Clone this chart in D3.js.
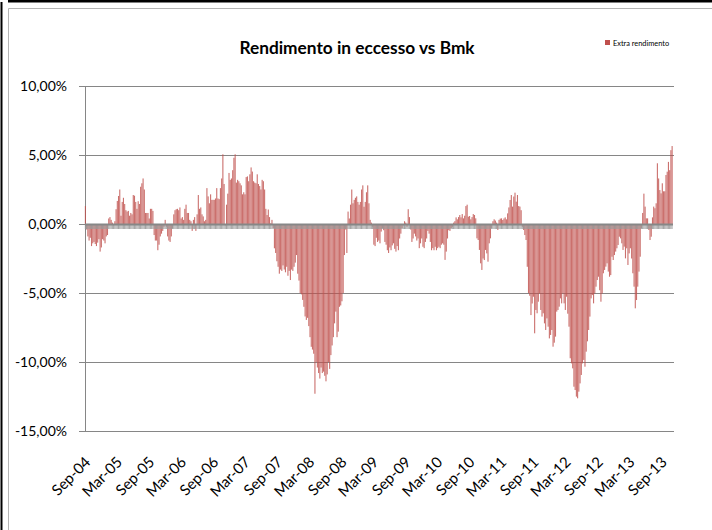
<!DOCTYPE html>
<html>
<head>
<meta charset="utf-8">
<script src="https://cdnjs.cloudflare.com/ajax/libs/d3/7.8.5/d3.min.js"></script>
<style>
  html, body { margin: 0; padding: 0; background: #ffffff; }
  svg { display: block; }
  text { font-family: Lato, "Open Sans", sans-serif; fill: #000; }
</style>
</head>
<body>
<svg id="chart" width="712" height="530"></svg>
<script>
// ---- Data (weekly excess return vs benchmark, %), first week 3 Sep 2004 ----
const seriesName = "Extra rendimento";
const chartTitle = "Rendimento in eccesso vs Bmk";
const firstWeek = "2004-09-03";
const d2004 = [1.3,-0.4,-0.9,-1.2,-1.0,-1.6,-1.4,-1.3,-1.45,-1.6,-1.35,-1.1,-2.0,-1.7,-1.1,-1.2,-1.4,-0.9];
const d2005 = [-0.8,0.4,0.5,0.3,0.1,-0.1,0.2,1.07,1.67,2.03,2.5,0.6,1.6,1.9,1.45,1.0,0.9,0.95,0.6,0.8,0.7,2.1,2.05,1.6,1.1,1.65,1.45,2.7,2.95,3.3,2.5,0.8,0.8,0.8,0.4,1.1,1.1,0.95,-0.8,-1.2,-1.2,-1.9,-1.5,-0.9,-0.7,-0.5,-0.2,0.3,-0.2,-0.9,-1.2,-1.3];
const d2006 = [-0.9,-0.3,0.7,1.0,1.07,1.1,1.0,1.2,0.4,0.5,0.3,1.1,1.4,0.8,0.8,0.3,0.2,-0.5,0.3,0.5,-0.5,0.7,2.1,1.1,1.2,0.7,0.55,0.2,0.3,2.6,2.0,1.5,2.15,1.75,1.75,1.75,1.85,2.6,1.85,1.8,2.6,3.3,5.05,2.9,-0.1,1.4,2.2,3.7,3.2,3.3,3.9,4.8];
const d2007 = [5.05,3.0,3.2,3.1,2.95,2.8,2.15,2.3,2.15,3.4,3.45,3.1,3.6,4.1,3.8,3.1,3.0,2.95,3.6,2.9,2.75,2.5,3.2,3.1,2.5,1.1,0.65,1.05,0.5,0.05,0.3,-0.3,-1.76,-2.1,-2.7,-3.1,-3.6,-3.3,-3.4,-3.0,-3.3,-3.5,-3.1,-3.75,-3.4,-4.06,-3.3,-3.4,-3.1,-2.8,-2.25,-3.6];
const d2008 = [-4.1,-5.0,-5.1,-5.5,-6.0,-6.7,-6.95,-6.8,-7.4,-8.2,-8.9,-9.1,-9.4,-12.3,-10.0,-10.4,-10.8,-11.2,-10.4,-10.8,-10.7,-11.0,-11.4,-10.9,-10.0,-10.5,-9.5,-8.8,-8.2,-7.2,-6.35,-8.2,-7.8,-6.0,-5.9,-5.6,-5.0,-2.25,-0.4,-2.1,0.9,0.4,1.4,2.5,1.5,1.75,1.9,2.0,1.6,1.4,1.6,2.5];
const d2009 = [2.8,1.25,1.6,2.3,2.8,1.5,0.3,0.1,-0.2,-1.5,-1.6,-1.0,-1.3,-1.2,-1.4,-0.55,-0.3,-0.45,-1.3,-1.5,-1.9,-2.1,-1.7,-1.9,-1.55,-1.4,-1.8,-2.0,-1.6,-1.9,-1.05,-0.7,-0.3,-0.1,0.2,0.1,-0.2,1.07,0.5,-0.4,-1.3,-1.05,-0.7,-0.9,-1.2,-1.05,-1.75,-1.4,-1.05,-1.65,-1.75,-1.3];
const d2010 = [-1.05,-0.5,-0.7,-1.3,-1.9,-1.75,-1.9,-1.65,-1.9,-1.75,-1.65,-1.75,-1.5,-1.4,-1.5,-2.6,-2.0,-1.05,-0.45,-0.5,-0.3,-0.2,0.1,0.2,0.48,0.34,0.5,0.65,0.48,0.72,0.41,0.6,1.3,1.4,0.53,0.58,0.34,0.5,0.72,0.65,0.41,-1.04,-1.16,-1.88,-2.85,-3.33,-2.5,-2.61,-1.88,-2.13,-2.73,-1.4];
const d2011 = [-1.04,-0.3,0.2,0.34,0.25,0.1,-0.43,0.3,0.39,0.41,0.29,0.4,0.48,0.34,0.77,1.2,1.74,2.1,1.26,1.99,2.27,1.62,2.1,1.3,1.26,1.0,-0.2,-0.43,-0.8,-1.16,-3.1,-5.0,-5.2,-6.6,-5.76,-5.27,-7.92,-6.23,-6.47,-5.63,-5.02,-6.23,-6.71,-6.47,-7.2,-7.68,-6.84,-7.44,-8.29,-8.04,-7.68,-8.89];
const d2012 = [-8.6,-8.16,-6.35,-6.23,-5.99,-5.39,-5.75,-5.03,-5.75,-6.23,-5.27,-6.5,-7.44,-9.73,-10.1,-10.46,-11.79,-12.03,-12.51,-12.63,-12.15,-11.55,-10.94,-10.1,-9.85,-10.34,-9.25,-8.5,-7.68,-6.71,-5.39,-5.15,-5.75,-5.03,-4.54,-4.06,-3.82,-4.8,-5.63,-5.03,-3.57,-3.33,-3.09,-2.85,-3.45,-3.82,-3.7,-2.37,-2.61,-2.25,-2.0,-1.76];
const d2013 = [-1.52,-0.92,-1.04,-1.4,-1.88,-1.64,-2.49,-1.76,-2.97,-2.13,-1.76,-2.5,-3.57,-4.54,-6.11,-5.51,-4.54,-3.45,-2.37,-0.3,0.8,2.2,1.26,0.41,0.41,-0.43,-1.16,-0.92,0.48,1.26,1.14,1.5,4.4,3.3,2.46,2.22,2.95,2.37,2.37,3.55,3.79,4.5,3.9,5.35,5.65];

const xTickLabels = ["Sep-04","Mar-05","Sep-05","Mar-06","Sep-06","Mar-07","Sep-07","Mar-08","Sep-08","Mar-09","Sep-09","Mar-10","Sep-10","Mar-11","Sep-11","Mar-12","Sep-12","Mar-13","Sep-13"];
const yTickValues = [10, 5, 0, -5, -10, -15];
const xDomainLabels = ["2004-09-01", "2013-11-12"];

// ---- Build ----
const values = [].concat(d2004, d2005, d2006, d2007, d2008, d2009, d2010, d2011, d2012, d2013);
const parseDay = d3.timeParse("%Y-%m-%d");
const start = parseDay(firstWeek);
const data = values.map((v, i) => ({ date: d3.timeDay.offset(start, 7 * i), value: v }));
const parseTick = d3.timeParse("%b-%y");
const tickDates = xTickLabels.map(parseTick);

const svg = d3.select("#chart");
const W = 712, H = 530;
const plot = { left: 85, right: 674, top: 86, bottom: 431 };

const x = d3.scaleTime().domain(xDomainLabels.map(parseDay)).range([plot.left, plot.right]);
const y = d3.scaleLinear().domain([-15, 10]).range([plot.bottom, plot.top]);

// outer frames (sheet border and chart frame)
svg.append("rect").attr("x", 8).attr("y", 0).attr("width", W - 8).attr("height", 2.5).attr("fill", "#000");
svg.append("rect").attr("x", 0.5).attr("y", 2).attr("width", 2).attr("height", H).attr("fill", "#000");
svg.append("path").attr("d", `M8.5,${H} V8.5 H${W}`).attr("fill", "none").attr("stroke", "#b4b4b4").attr("stroke-width", 1);

// gridlines + y axis
const locale = d3.formatLocale({ decimal: ",", thousands: ".", grouping: [3], currency: ["", "€"], minus: "-" });
const fmt = v => locale.format(".2f")(v) + "%";
const yAxis = d3.axisLeft(y).tickValues(yTickValues).tickSize(-(plot.right - plot.left)).tickSizeOuter(0).tickPadding(12).tickFormat(fmt);
const gy = svg.append("g").attr("transform", `translate(${plot.left},0)`).call(yAxis);
gy.select(".domain").attr("stroke", "#868686");
gy.selectAll(".tick line").attr("stroke", "#868686").attr("stroke-width", 1);
gy.selectAll(".tick").filter(d => d === 0).select("line").attr("stroke", "none");
gy.selectAll(".tick text").attr("font-size", "14px").attr("font-family", "Lato, sans-serif").attr("fill", "#000").attr("x", -18);
// small outward tick marks
gy.selectAll(".tick").append("line").attr("x1", -6).attr("x2", 0).attr("stroke", "#868686");

// bars
svg.append("g").selectAll("rect").data(data).join("rect")
  .attr("x", d => x(d.date) - 0.5)
  .attr("width", 1.1)
  .attr("y", d => y(Math.max(0, d.value)))
  .attr("height", d => Math.abs(y(d.value) - y(0)))
  .attr("fill", "#c0504d")
  .attr("fill-opacity", 0.82);

// category axis at zero: thick line with dense tick marks
const zeroY = y(0);
svg.append("g").selectAll("line").data(data).join("line")
  .attr("x1", d => x(d.date)).attr("x2", d => x(d.date))
  .attr("y1", zeroY).attr("y2", zeroY + 5)
  .attr("stroke", "#9a9a9a").attr("stroke-width", 0.9);
svg.append("line").attr("x1", plot.left).attr("x2", plot.right - 1)
  .attr("y1", zeroY + 0.5).attr("y2", zeroY + 0.5)
  .attr("stroke", "#878787").attr("stroke-width", 2.2);

// x tick labels (rotated)
const xAxis = d3.axisBottom(x).tickValues(tickDates).tickSize(0).tickFormat((d, i) => xTickLabels[i]);
const gx = svg.append("g").attr("transform", `translate(0,${plot.bottom})`).call(xAxis);
gx.select(".domain").remove();
gx.selectAll(".tick text")
  .attr("font-size", "15px").attr("font-family", "Lato, sans-serif").attr("fill", "#000")
  .attr("text-anchor", "end")
  .attr("dy", null).attr("y", null)
  .attr("transform", "translate(6,32) rotate(-45)");

// title
svg.append("text").attr("x", 357).attr("y", 54).attr("text-anchor", "middle")
  .attr("font-size", "17.3px").attr("font-weight", "bold").text(chartTitle);

// legend
svg.append("rect").attr("x", 605).attr("y", 40).attr("width", 5).attr("height", 5).attr("fill", "#c0504d");
svg.append("text").attr("x", 613).attr("y", 46).attr("font-size", "7.4px").text(seriesName);
</script>
</body>
</html>
